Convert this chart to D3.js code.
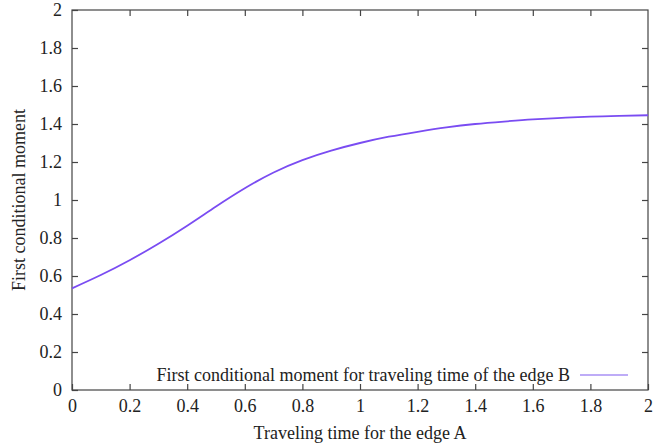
<!DOCTYPE html>
<html><head><meta charset="utf-8">
<script src="https://cdn.jsdelivr.net/npm/d3@7"></script>
<style>body{margin:0;background:#fff}svg{display:block}</style>
</head><body><svg id="c" width="667" height="446"></svg>
<script>
const xValues = [0,0.1,0.2,0.3,0.4,0.5,0.6,0.7,0.8,0.9,1.0,1.1,1.2,1.3,1.4,1.5,1.6,1.7,1.8,1.9,2.0];
const yValues = [0.535,0.605,0.683,0.77,0.865,0.966,1.062,1.145,1.21,1.26,1.30,1.333,1.359,1.382,1.4,1.413,1.424,1.432,1.439,1.443,1.446];
const xTicks = [0,0.2,0.4,0.6,0.8,1,1.2,1.4,1.6,1.8,2];
const yTicks = [0,0.2,0.4,0.6,0.8,1,1.2,1.4,1.6,1.8,2];
const seriesName = "First conditional moment for traveling time of the edge B";
const xTitle = "Traveling time for the edge A";
const yTitle = "First conditional moment";

const svg = d3.select("#c");
const L=72, R=648, T=10, B=390;
const x = d3.scaleLinear().domain([0,2]).range([L,R]);
const y = d3.scaleLinear().domain([0,2]).range([B,T]);
const font = "'Liberation Serif', 'Times New Roman', serif";
const axisCol = "#444";
const fs = "18px";

svg.append("rect").attr("x",L).attr("y",T).attr("width",R-L).attr("height",B-T)
  .attr("fill","none").attr("stroke",axisCol).attr("stroke-width",1.2);

function styleAxis(g){
  g.select(".domain").remove();
  g.selectAll("line").attr("stroke",axisCol).attr("stroke-width",1.2);
  g.selectAll("text").attr("font-family",font).attr("font-size",fs).attr("fill","#222");
}
const fmt = d => String(d);
svg.append("g").attr("transform",`translate(0,${B})`)
  .call(d3.axisBottom(x).tickValues(xTicks).tickFormat(fmt).tickSizeInner(-6).tickPadding(9))
  .call(styleAxis);
svg.append("g").attr("transform",`translate(0,${T})`)
  .call(d3.axisTop(x).tickValues(xTicks.slice(1,-1)).tickFormat("").tickSizeInner(-6))
  .call(styleAxis);
svg.append("g").attr("transform",`translate(${L},0)`)
  .call(d3.axisLeft(y).tickValues(yTicks).tickFormat(fmt).tickSizeInner(-6).tickPadding(10))
  .call(styleAxis);
svg.append("g").attr("transform",`translate(${R},0)`)
  .call(d3.axisRight(y).tickValues(yTicks.slice(1,-1)).tickFormat("").tickSizeInner(-6))
  .call(styleAxis);

const data = xValues.map((v,i)=>({x:v,y:yValues[i]}));
svg.append("path").datum(data)
  .attr("fill","none").attr("stroke","#7a4cf2").attr("stroke-width",1.8)
  .attr("d", d3.line().x(d=>x(d.x)).y(d=>y(d.y)).curve(d3.curveNatural));

// legend
svg.append("text").attr("x",570).attr("y",375).attr("dy","0.35em")
  .attr("text-anchor","end").attr("font-family",font).attr("font-size",fs).attr("fill","#222")
  .text(seriesName);
svg.append("line").attr("x1",580).attr("x2",628).attr("y1",375).attr("y2",375)
  .attr("stroke","#a890f5").attr("stroke-width",1.5);

svg.append("text").attr("x",(L+R)/2).attr("y",439).attr("text-anchor","middle")
  .attr("font-family",font).attr("font-size",fs).attr("fill","#222").text(xTitle);
svg.append("text").attr("transform",`translate(25,${(T+B)/2}) rotate(-90)`).attr("text-anchor","middle")
  .attr("font-family",font).attr("font-size",fs).attr("fill","#222").text(yTitle);
</script></body></html>
